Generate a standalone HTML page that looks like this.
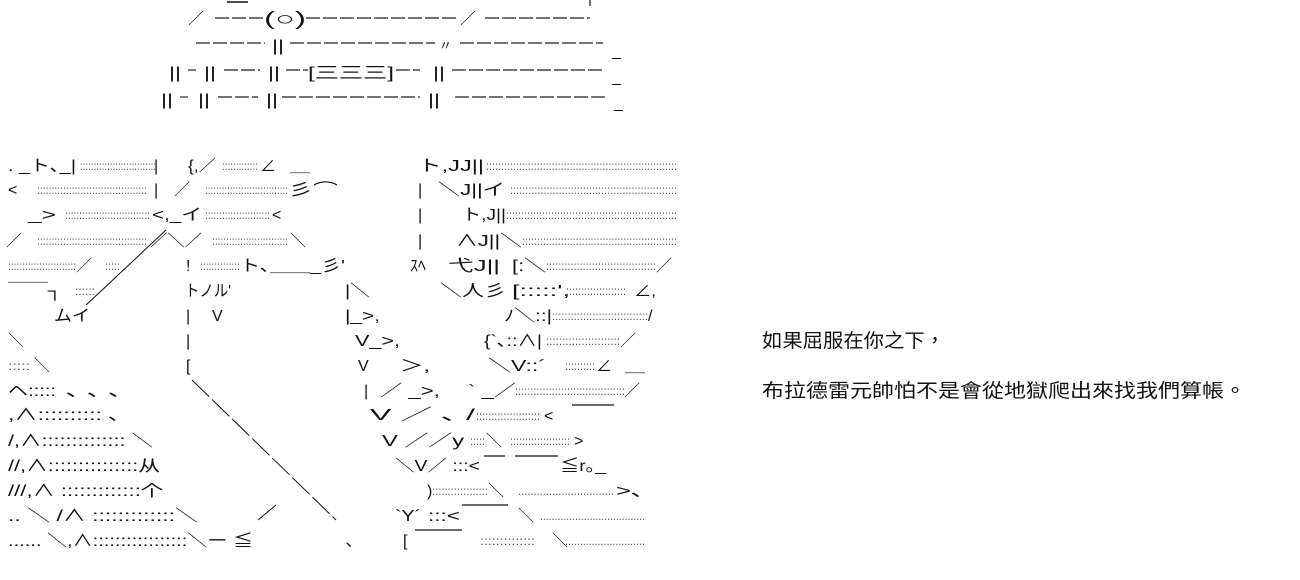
<!DOCTYPE html>
<html><head><meta charset="utf-8"><style>
html,body{margin:0;padding:0;background:#fff;width:1300px;height:580px;overflow:hidden}
svg{display:block}
text{font-family:"Liberation Sans","Noto Sans CJK JP",sans-serif;font-size:16px;fill:#111}
.d{font-size:12px;fill:#555}
.t{font-size:19px;fill:#111;font-family:"Liberation Sans","Noto Sans CJK TC",sans-serif}
.ds{stroke:#222;stroke-width:1.2;stroke-dasharray:14 3}
</style></head><body>
<svg width="1300" height="580" viewBox="0 0 1300 580">
<!-- top -->
<line x1="227" y1="2" x2="248" y2="2" stroke="#111" stroke-width="1.5"/>
<line x1="590" y1="0" x2="590" y2="6" stroke="#111" stroke-width="1.2"/>
<text x="188" y="24">／</text>
<line class="ds" x1="215" y1="18" x2="265" y2="18"/>
<text x="264" y="25" style="font-size:19px" textLength="42" lengthAdjust="spacingAndGlyphs">(○)</text>
<line class="ds" x1="306" y1="18" x2="458" y2="18"/>
<text x="460" y="24">／</text>
<line class="ds" x1="485" y1="18" x2="590" y2="18"/>
<text x="612" y="56">_</text>
<line class="ds" x1="196" y1="43" x2="265" y2="43"/>
<text x="272" y="51" textLength="12" lengthAdjust="spacingAndGlyphs">||</text>
<line class="ds" x1="290" y1="43" x2="435" y2="43"/>
<text x="439" y="50" style="font-size:13px">〃</text>
<line class="ds" x1="460" y1="43" x2="603" y2="43"/>
<text x="612" y="82">_</text>
<text x="169" y="78" textLength="12" lengthAdjust="spacingAndGlyphs">||</text>
<line class="ds" x1="188" y1="70" x2="196" y2="70"/>
<text x="204" y="78" textLength="12" lengthAdjust="spacingAndGlyphs">||</text>
<line class="ds" x1="224" y1="70" x2="260" y2="70"/>
<text x="268" y="78" textLength="12" lengthAdjust="spacingAndGlyphs">||</text>
<line class="ds" x1="286" y1="70" x2="308" y2="70"/>
<text x="308" y="78" textLength="86" lengthAdjust="spacingAndGlyphs">[三三三]</text>
<line class="ds" x1="396" y1="70" x2="420" y2="70"/>
<text x="433" y="78" textLength="12" lengthAdjust="spacingAndGlyphs">||</text>
<line class="ds" x1="452" y1="70" x2="603" y2="70"/>
<text x="614" y="108">_</text>
<text x="161" y="105" textLength="12" lengthAdjust="spacingAndGlyphs">||</text>
<line class="ds" x1="180" y1="97" x2="188" y2="97"/>
<text x="198" y="105" textLength="12" lengthAdjust="spacingAndGlyphs">||</text>
<line class="ds" x1="218" y1="97" x2="258" y2="97"/>
<text x="266" y="105" textLength="12" lengthAdjust="spacingAndGlyphs">||</text>
<line class="ds" x1="282" y1="97" x2="420" y2="97"/>
<text x="428" y="105" textLength="12" lengthAdjust="spacingAndGlyphs">||</text>
<line class="ds" x1="455" y1="97" x2="607" y2="97"/>

<!-- left figure -->
<text x="8" y="171" textLength="68" lengthAdjust="spacingAndGlyphs">.  _ト､_|</text>
<text class="d" x="80" y="170" textLength="76" lengthAdjust="spacingAndGlyphs">::::::::::::::::::::::::::::</text>
<text x="154" y="171">|</text>
<text x="188" y="171" textLength="28" lengthAdjust="spacingAndGlyphs">{,／</text>
<text class="d" x="222" y="170" textLength="36" lengthAdjust="spacingAndGlyphs">:::::::::::::</text>
<text x="260" y="171">∠</text>
<text x="290" y="171" textLength="20" lengthAdjust="spacingAndGlyphs">＿</text>

<text x="8" y="195">&lt;</text>
<text class="d" x="37" y="194" textLength="110" lengthAdjust="spacingAndGlyphs">::::::::::::::::::::::::::::::::::::::</text>
<text x="154" y="195">|</text>
<text x="174" y="195">／</text>
<text class="d" x="205" y="194" textLength="83" lengthAdjust="spacingAndGlyphs">::::::::::::::::::::::::::::::</text>
<text x="288" y="195" textLength="50" lengthAdjust="spacingAndGlyphs">彡⌒</text>

<text x="28" y="220" textLength="28" lengthAdjust="spacingAndGlyphs">_&gt;</text>
<text class="d" x="65" y="219" textLength="85" lengthAdjust="spacingAndGlyphs">::::::::::::::::::::::::::::::</text>
<text x="152" y="220" textLength="50" lengthAdjust="spacingAndGlyphs">&lt;,_イ</text>
<text class="d" x="205" y="219" textLength="65" lengthAdjust="spacingAndGlyphs">:::::::::::::::::::::::</text>
<text x="272" y="220">&lt;</text>

<text x="6" y="246">／</text>
<text class="d" x="37" y="245" textLength="110" lengthAdjust="spacingAndGlyphs">::::::::::::::::::::::::::::::::::::::</text>
<text x="150" y="246" textLength="52" lengthAdjust="spacingAndGlyphs">／＼／</text>
<text class="d" x="212" y="245" textLength="76" lengthAdjust="spacingAndGlyphs">:::::::::::::::::::::::::::</text>
<text x="290" y="246">＼</text>

<text class="d" x="8" y="270" textLength="68" lengthAdjust="spacingAndGlyphs">::::::::::::::::::::::::</text>
<text x="76" y="271">／</text>
<text class="d" x="105" y="270" textLength="15" lengthAdjust="spacingAndGlyphs">:::::</text>
<line x1="166" y1="230" x2="100" y2="292" stroke="#111" stroke-width="1"/>
<text x="186" y="271">!</text>
<text class="d" x="200" y="270" textLength="40" lengthAdjust="spacingAndGlyphs">::::::::::::::</text>
<text x="240" y="271" textLength="105" lengthAdjust="spacingAndGlyphs">ト､＿＿_彡'</text>

<text x="8" y="296" textLength="54" lengthAdjust="spacingAndGlyphs">￣￣┐</text>
<text class="d" x="75" y="295" textLength="20" lengthAdjust="spacingAndGlyphs">::::::</text>
<line x1="100" y1="292" x2="86" y2="305" stroke="#111" stroke-width="1"/>
<text x="185" y="296" textLength="46" lengthAdjust="spacingAndGlyphs">トノル'</text>
<text x="54" y="321" textLength="36" lengthAdjust="spacingAndGlyphs">ムイ</text>
<text x="186" y="321">|</text>
<text x="212" y="321">V</text>
<text x="8" y="346">＼</text>
<text x="186" y="346">|</text>
<text class="d" x="8" y="370" textLength="22" lengthAdjust="spacingAndGlyphs">:::::</text>
<text x="34" y="371">＼</text>
<text x="186" y="371">[</text>
<text x="8" y="396" textLength="48" lengthAdjust="spacingAndGlyphs">ヘ:::::</text>
<text x="66" y="396" textLength="56" lengthAdjust="spacingAndGlyphs">､  ､  ､</text>
<text x="8" y="420" textLength="112" lengthAdjust="spacingAndGlyphs">,∧::::::::::  ､</text>
<text x="8" y="446" textLength="145" lengthAdjust="spacingAndGlyphs">/,∧::::::::::::::   ＼</text>
<text x="8" y="471" textLength="152" lengthAdjust="spacingAndGlyphs">//,∧:::::::::::::::从</text>
<text x="8" y="496" textLength="155" lengthAdjust="spacingAndGlyphs">///,∧  :::::::::::::个</text>
<text x="8" y="521" textLength="190" lengthAdjust="spacingAndGlyphs">..  ＼  /∧  :::::::::::::＼</text>
<text x="8" y="546" textLength="245" lengthAdjust="spacingAndGlyphs">......  ＼,∧:::::::::::::::::＼ー  ≦</text>
<line x1="192" y1="380" x2="336" y2="520" stroke="#111" stroke-width="1" stroke-dasharray="24 4"/>
<line x1="258" y1="520" x2="276" y2="505" stroke="#111" stroke-width="1"/>
<text x="346" y="546">､</text>
<!-- middle bird -->
<text x="345" y="296" textLength="25" lengthAdjust="spacingAndGlyphs">|＼</text>
<text x="345" y="321" textLength="35" lengthAdjust="spacingAndGlyphs">|_&gt;,</text>
<text x="355" y="346" textLength="45" lengthAdjust="spacingAndGlyphs">V_&gt;,</text>
<text x="358" y="371">V</text>
<text x="400" y="371" textLength="30" lengthAdjust="spacingAndGlyphs">＞,</text>
<text x="364" y="396">|</text>
<text x="380" y="396" textLength="60" lengthAdjust="spacingAndGlyphs">／ _&gt;,</text>
<text x="370" y="420" textLength="105" lengthAdjust="spacingAndGlyphs">V ／   ､ /</text>
<text x="382" y="446" textLength="82" lengthAdjust="spacingAndGlyphs">V  ／／y</text>
<text x="395" y="471" textLength="85" lengthAdjust="spacingAndGlyphs">＼V／ :::&lt;</text>
<!-- right -->
<text x="418" y="171" textLength="66" lengthAdjust="spacingAndGlyphs">ト,JJ||</text>
<text class="d" x="486" y="170" textLength="191" lengthAdjust="spacingAndGlyphs">::::::::::::::::::::::::::::::::::::::::::::::::::::::::::::::::</text>
<text x="418" y="195">|</text>
<text x="438" y="195" textLength="67" lengthAdjust="spacingAndGlyphs">＼J||イ</text>
<text class="d" x="510" y="194" textLength="167" lengthAdjust="spacingAndGlyphs">:::::::::::::::::::::::::::::::::::::::::::::::::::::::</text>
<text x="418" y="220">|</text>
<text x="462" y="220" textLength="44" lengthAdjust="spacingAndGlyphs">ト,J||</text>
<text class="d" x="506" y="219" textLength="171" lengthAdjust="spacingAndGlyphs">:::::::::::::::::::::::::::::::::::::::::::::::::::::::::</text>
<text x="418" y="246">|</text>
<text x="456" y="246" textLength="66" lengthAdjust="spacingAndGlyphs">∧J||＼</text>
<text class="d" x="522" y="245" textLength="155" lengthAdjust="spacingAndGlyphs">::::::::::::::::::::::::::::::::::::::::::::::::::::</text>
<text x="410" y="271" textLength="16" lengthAdjust="spacingAndGlyphs">ｽﾍ</text>
<text x="448" y="271" textLength="52" lengthAdjust="spacingAndGlyphs">弋J||</text>
<text x="512" y="271" textLength="34" lengthAdjust="spacingAndGlyphs">[:＼</text>
<text class="d" x="546" y="270" textLength="110" lengthAdjust="spacingAndGlyphs">::::::::::::::::::::::::::::::::::::</text>
<text x="656" y="271">／</text>
<text x="440" y="296" textLength="66" lengthAdjust="spacingAndGlyphs">＼人彡</text>
<text x="512" y="296" textLength="58" lengthAdjust="spacingAndGlyphs">[:::::',</text>
<text class="d" x="566" y="295" textLength="60" lengthAdjust="spacingAndGlyphs">::::::::::::::::::::</text>
<text x="634" y="296" textLength="22" lengthAdjust="spacingAndGlyphs">∠,</text>
<text x="504" y="321" textLength="48" lengthAdjust="spacingAndGlyphs">ﾉ＼::|</text>
<text class="d" x="552" y="320" textLength="96" lengthAdjust="spacingAndGlyphs">:::::::::::::::::::::::::::::::</text>
<text x="648" y="321">/</text>
<text x="484" y="346" textLength="58" lengthAdjust="spacingAndGlyphs">{`､::∧|</text>
<text class="d" x="546" y="345" textLength="74" lengthAdjust="spacingAndGlyphs">:::::::::::::::::::::::</text>
<text x="620" y="346">／</text>
<text x="488" y="371" textLength="58" lengthAdjust="spacingAndGlyphs">＼V::´</text>
<text class="d" x="565" y="370" textLength="30" lengthAdjust="spacingAndGlyphs">::::::::::</text>
<text x="596" y="371">∠</text>
<text x="625" y="371" textLength="20" lengthAdjust="spacingAndGlyphs">＿</text>
<text x="468" y="396" textLength="48" lengthAdjust="spacingAndGlyphs">` _／</text>
<text class="d" x="515" y="395" textLength="110" lengthAdjust="spacingAndGlyphs">::::::::::::::::::::::::::::::::::::</text>
<text x="624" y="396">／</text>
<line x1="572" y1="405" x2="614" y2="405" stroke="#111" stroke-width="1.3"/>
<text class="d" x="476" y="420" textLength="64" lengthAdjust="spacingAndGlyphs">:::::::::::::::::::::</text>
<text x="544" y="421">&lt;</text>
<text class="d" x="470" y="445" textLength="15" lengthAdjust="spacingAndGlyphs">:::::</text>
<text x="486" y="446">＼</text>
<text class="d" x="510" y="445" textLength="60" lengthAdjust="spacingAndGlyphs">::::::::::::::::::::</text>
<text x="574" y="446">&gt;</text>
<line x1="484" y1="456" x2="505" y2="456" stroke="#111" stroke-width="1.3"/>
<line x1="515" y1="456" x2="558" y2="456" stroke="#111" stroke-width="1.3"/>
<text x="560" y="471" textLength="46" lengthAdjust="spacingAndGlyphs">≦r｡_</text>
<text x="427" y="496">)</text>
<text class="d" x="432" y="495" textLength="56" lengthAdjust="spacingAndGlyphs">::::::::::::::::::</text>
<text x="488" y="496">＼</text>
<text class="d" x="518" y="495" textLength="96" lengthAdjust="spacingAndGlyphs">...............................</text>
<text x="616" y="496" textLength="28" lengthAdjust="spacingAndGlyphs">&gt;､</text>
<text x="395" y="521" textLength="26" lengthAdjust="spacingAndGlyphs">`Y´</text>
<text x="428" y="521" textLength="32" lengthAdjust="spacingAndGlyphs">:::&lt;</text>
<line x1="462" y1="505" x2="508" y2="505" stroke="#111" stroke-width="1.3"/>
<text x="518" y="521">＼</text>
<text class="d" x="540" y="520" textLength="105" lengthAdjust="spacingAndGlyphs">....................................</text>
<text x="403" y="546">[</text>
<line x1="415" y1="530" x2="462" y2="530" stroke="#111" stroke-width="1.3"/>
<text class="d" x="480" y="545" textLength="55" lengthAdjust="spacingAndGlyphs">::::::::::::::</text>
<text x="552" y="546">＼</text>
<text class="d" x="565" y="545" textLength="80" lengthAdjust="spacingAndGlyphs">...........................</text>
<!-- Chinese text -->
<text class="t" x="762" y="347" textLength="183" lengthAdjust="spacingAndGlyphs">如果屈服在你之下，</text>
<text class="t" x="762" y="397" textLength="484" lengthAdjust="spacingAndGlyphs">布拉德雷元帥怕不是會從地獄爬出來找我們算帳。</text>
</svg>
</body></html>
